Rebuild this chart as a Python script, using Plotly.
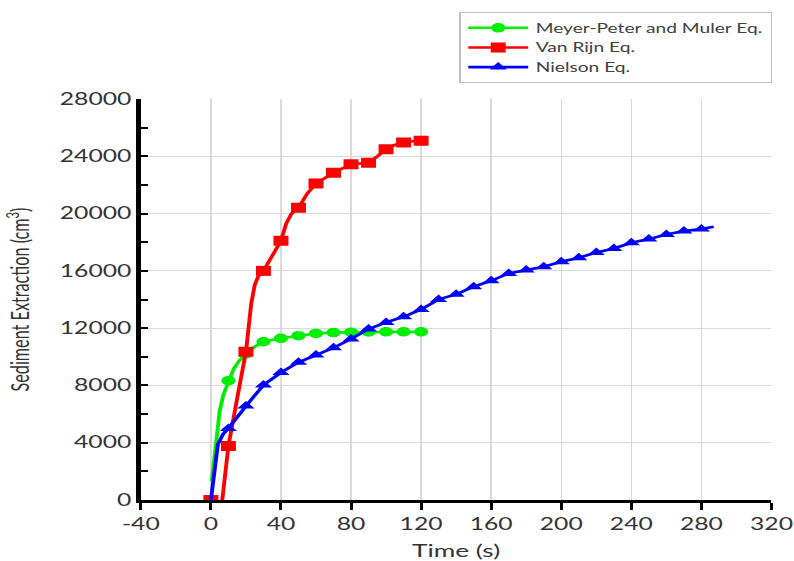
import plotly.graph_objects as go

# Meyer-Peter and Muler equation: marker points and the computed curve
mpm_marker_t = [10, 20, 30, 40, 50, 60, 70, 80, 90, 100, 110, 120]
mpm_marker_v = [8330, 10200, 11050, 11290, 11470, 11630, 11690, 11720, 11730, 11740, 11740, 11740]
mpm_curve_t = [0.5, 2, 3.3, 5, 7, 10, 13, 16, 20, 25, 30, 40, 50, 60, 70, 80, 90, 100, 110, 120]
mpm_curve_v = [1300, 2900, 4190, 6200, 7300, 8330, 9150, 9700, 10200, 10700, 11050, 11290,
               11470, 11630, 11690, 11720, 11730, 11740, 11740, 11740]

# Van Rijn equation
vr_marker_t = [0, 10, 20, 30, 40, 50, 60, 70, 80, 90, 100, 110, 120]
vr_marker_v = [0, 3770, 10350, 16000, 18100, 20400, 22100, 22850, 23450, 23550, 24500, 24970, 25080]
vr_curve_t = [6.5, 10, 15, 20, 21.5, 23, 25, 27, 30, 35, 40, 43, 46, 50, 55, 60, 65, 70, 75,
              80, 85, 90, 95, 100, 105, 110, 115, 120]
vr_curve_v = [0, 3770, 7100, 10350, 12000, 13700, 15000, 15600, 16000, 17000, 18100, 19300,
              20000, 20400, 21400, 22100, 22500, 22850, 23150, 23450, 23500, 23550, 24000,
              24500, 24800, 24970, 25050, 25080]

# Nielson equation
nl_marker_t = [10, 20, 30, 40, 50, 60, 70, 80, 90, 100, 110, 120, 130, 140, 150, 160, 170,
               180, 190, 200, 210, 220, 230, 240, 250, 260, 270, 280]
nl_marker_v = [5000, 6560, 8030, 8900, 9610, 10120, 10630, 11240, 11935, 12400, 12795, 13310,
               14008, 14358, 14890, 15310, 15820, 16054, 16286, 16635, 16914, 17286, 17566,
               17962, 18218, 18543, 18776, 18916]
nl_curve_t = [0, 2, 4, 7] + nl_marker_t + [287]
nl_curve_v = [0, 1900, 3900, 4600] + nl_marker_v + [19080]

x_ticks = [-40, 0, 40, 80, 120, 160, 200, 240, 280, 320]
y_ticks = [0, 4000, 8000, 12000, 16000, 20000, 24000, 28000]

series = [
    ("Meyer-Peter and Muler Eq.", "#00ee00", "circle", 9.5,
     mpm_curve_t, mpm_curve_v, mpm_marker_t, mpm_marker_v),
    ("Van Rijn Eq.", "#ff0000", "square", 10,
     vr_curve_t, vr_curve_v, vr_marker_t, vr_marker_v),
    ("Nielson Eq.", "#0000ff", "triangle-up", 10,
     nl_curve_t, nl_curve_v, nl_marker_t, nl_marker_v),
]

# the whole chart is drawn narrow, then widened horizontally by STRETCH
STRETCH = 1.498
FONT = "Lato"
TEXT = "#333333"

fig = go.Figure()
for name, color, symbol, size, ct, cv, mt, mv in series:
    fig.add_trace(go.Scatter(x=ct, y=cv, mode="lines", line=dict(color=color, width=2.6),
                             showlegend=False, hoverinfo="skip"))
    fig.add_trace(go.Scatter(x=mt, y=mv, mode="markers", showlegend=False,
                             marker=dict(color=color, symbol=symbol, size=size)))
    # legend entry
    fig.add_trace(go.Scatter(x=[None], y=[None], mode="lines+markers", name=name,
                             line=dict(color=color, width=2.6),
                             marker=dict(color=color, symbol=symbol, size=size)))

fig.update_layout(
    width=530, height=561,
    margin=dict(l=94.1, r=15.4, t=99, b=61, autoexpand=False),
    paper_bgcolor="white", plot_bgcolor="white",
    font=dict(family=FONT, color=TEXT),
    legend=dict(x=0.505, y=1.217, xanchor="left", yanchor="top",
                bordercolor="#bfbfbf", borderwidth=1, bgcolor="white",
                font=dict(family=FONT, size=12.8, color="#404040"),
                itemwidth=40, tracegroupgap=0),
    xaxis=dict(
        range=[-40, 320], tickvals=x_ticks, ticktext=[str(v) for v in x_ticks],
        automargin=False,
        showgrid=True, gridcolor="#d9d9d9", gridwidth=1, zeroline=False,
        showline=True, linecolor="black", linewidth=3,
        ticks="outside", ticklen=7, tickwidth=2.2, tickcolor="black",
        tickfont=dict(family=FONT, size=16.5, color=TEXT),
        title=dict(text="Time (s)", font=dict(family=FONT, size=17.5, color=TEXT), standoff=12),
    ),
    yaxis=dict(
        range=[0, 28000], tickvals=y_ticks, ticktext=[str(v) for v in y_ticks],
        automargin=False,
        showgrid=True, gridcolor="#d9d9d9", gridwidth=1, zeroline=False,
        showline=True, linecolor="black", linewidth=3,
        ticks="inside", ticklen=5, tickwidth=2, tickcolor="black",
        minor=dict(dtick=2000, tick0=0, ticks="inside", ticklen=5, tickwidth=2,
                   tickcolor="black", showgrid=False),
        tickfont=dict(family=FONT, size=16.5, color=TEXT),
        title=dict(text="Sediment Extraction (cm<sup>3</sup>)",
                   font=dict(family=FONT, size=16.2, color=TEXT), standoff=16),
    ),
)

post = """
document.body.style.margin = '0';
var gd = document.getElementById('{plot_id}');
gd.style.transformOrigin = '0 0';
gd.style.transform = 'scaleX(%s)';
""" % STRETCH

fig.write_html("out.html", post_script=post)
